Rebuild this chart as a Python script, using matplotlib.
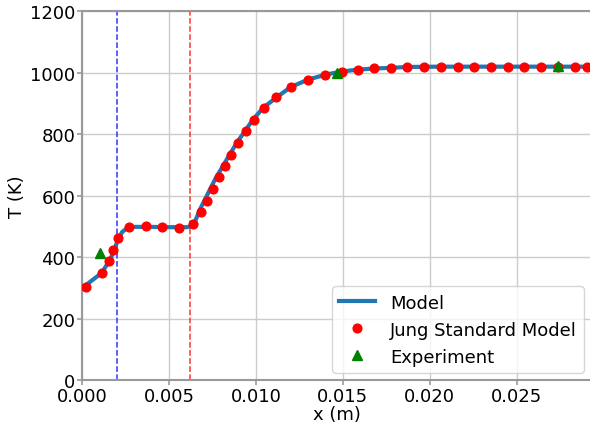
import matplotlib
matplotlib.use('Agg')
import matplotlib.pyplot as plt
import numpy as np

# Model temperature profile along the channel
x_model = [0.0, 0.0011, 0.0016, 0.0020, 0.00228, 0.00257, 0.0029, 0.0040, 0.0050,
           0.0060, 0.0062, 0.0065, 0.00678, 0.00707, 0.00765, 0.00833, 0.0089,
           0.00938, 0.00977, 0.0104, 0.0112, 0.0120, 0.0130, 0.0140, 0.0149,
           0.0158, 0.0168, 0.0177, 0.0187, 0.0206, 0.0230, 0.0260, 0.0293]
T_model = [300, 348, 392, 449, 481, 494, 498, 498, 497,
           497, 499, 518, 556, 589, 654, 719, 773,
           811, 843, 885, 920, 953, 977, 993, 1003,
           1009, 1013, 1015, 1018, 1019, 1019, 1019, 1019]

# Jung standard model
x_jung = [0.00020, 0.00111, 0.00155, 0.00176, 0.00203, 0.00268, 0.00365, 0.00459,
          0.00555, 0.00635, 0.00682, 0.00717, 0.00753, 0.00788, 0.00823, 0.00857,
          0.00896, 0.00940, 0.00990, 0.01044, 0.01115, 0.01202, 0.01297, 0.01394,
          0.01495, 0.01586, 0.01680, 0.01777, 0.01872, 0.01968, 0.02064, 0.02161,
          0.02256, 0.02353, 0.02449, 0.02545, 0.02641, 0.02738, 0.02834, 0.02907]
T_jung = [304, 348, 386, 424, 462, 498, 500, 498,
          494, 507, 547, 583, 621, 660, 696, 732,
          771, 810, 846, 885, 919, 952, 976, 992,
          1003, 1009, 1014, 1015, 1018, 1019, 1019, 1019,
          1019, 1019, 1019, 1019, 1019, 1019, 1019, 1019]

# Thermocouple readings
x_exp = [0.00101, 0.01468, 0.02738]
T_exp = [412, 998, 1022]

x_blue = 0.002
x_red = 0.0062

plt.rcParams['font.size'] = 13

fig = plt.figure(figsize=(5.9, 4.27), dpi=100)
ax = fig.add_axes([0.1398, 0.1077, 0.8622, 0.8642])

ax.plot(x_model, T_model, color='#1f77b4', lw=3, label='Model', zorder=3)
ax.plot(x_jung, T_jung, 'o', color='red', ms=6.3, label='Jung Standard Model', zorder=4)
ax.plot(x_exp, T_exp, '^', color='green', ms=7, label='Experiment', zorder=5)
ax.axvline(x_blue, color='#3333ff', ls='--', lw=1.1)
ax.axvline(x_red, color='#ff3333', ls='--', lw=1.1)

ax.set_xlim(0, 0.0293)
ax.set_ylim(0, 1200)
ax.set_xticks([0.0, 0.005, 0.01, 0.015, 0.02, 0.025])
ax.set_xticklabels(['0.000', '0.005', '0.010', '0.015', '0.020', '0.025'])
ax.set_xlabel('x (m)', labelpad=0)
ax.set_ylabel('T (K)', labelpad=3)
ax.grid(True, color='#cccccc', lw=1)
ax.set_axisbelow(True)
for s in ax.spines.values():
    s.set_color('#999999')
    s.set_linewidth(1.5)
ax.tick_params(colors='#999999', labelcolor='black', length=3.5, width=1.2, pad=1.5)

ax.legend(loc='lower right', fontsize=13, borderaxespad=0.4)

fig.savefig('out.png', dpi=100)
